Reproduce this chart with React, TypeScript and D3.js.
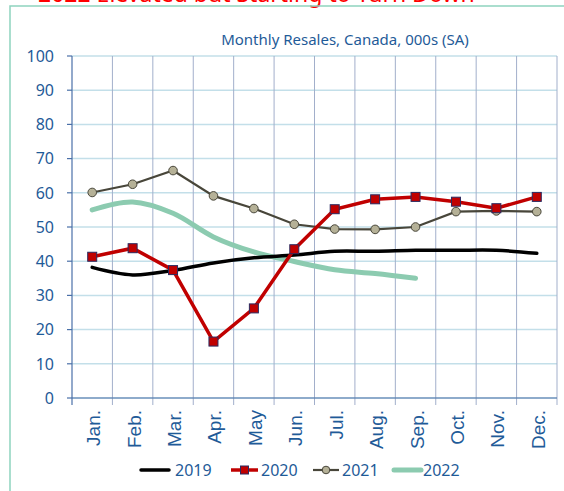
import React from "react";
import * as d3 from "d3";

const months = ["Jan.", "Feb.", "Mar.", "Apr.", "May", "Jun.", "Jul.", "Aug.", "Sep.", "Oct.", "Nov.", "Dec."];
const s2019 = [38.2, 36.0, 37.3, 39.5, 41.0, 41.8, 42.9, 42.9, 43.2, 43.2, 43.2, 42.3];
const s2020 = [41.3, 43.8, 37.4, 16.5, 26.2, 43.5, 55.2, 58.1, 58.8, 57.4, 55.5, 58.8];
const s2021 = [60.1, 62.5, 66.5, 59.1, 55.4, 50.8, 49.4, 49.3, 50.0, 54.5, 54.7, 54.5];
const s2022 = [55.0, 57.3, 54.0, 47.1, 42.7, 39.9, 37.5, 36.4, 35.0];
const yTicks = [0, 10, 20, 30, 40, 50, 60, 70, 80, 90, 100];
const seriesNames = ["2019", "2020", "2021", "2022"];

const W = 564, H = 491;
const L = 72, R = 557, T = 56, B = 398;
const BLUE = "#1F5B98";
const FONT = "'Noto Sans', sans-serif";

export default function App() {
  const x = d3.scaleBand<string>().domain(months).range([L, R]);
  const y = d3.scaleLinear().domain([0, 100]).range([B, T]);
  const cx = (i: number) => (x(months[i]) as number) + x.bandwidth() / 2;
  const straight = d3.line<number>().x((_, i) => cx(i)).y((d) => y(d));
  const smooth = d3.line<number>().x((_, i) => cx(i)).y((d) => y(d)).curve(d3.curveCatmullRom.alpha(0.5));

  const legendY = 470;
  return (
    <svg width={W} height={H} style={{ position: "absolute", left: 0, top: 0, background: "#fff" }} fontFamily={FONT}>
      <rect x={0} y={0} width={W} height={H} fill="#fff" />
      <text x={38} y={2} fill="#FF0000" fontSize={23} fontWeight={400}>2022 Elevated but Starting to Turn Down</text>
      <rect x={10} y={6} width={W + 20} height={H + 20} fill="none" stroke="#8ED3BE" strokeWidth={1.5} />
      <text x={345} y={45} fill={BLUE} fontSize={15} textAnchor="middle">Monthly Resales, Canada, 000s (SA)</text>

      {/* horizontal grid */}
      {yTicks.map((t) => (
        <line key={"h" + t} x1={L} x2={R} y1={y(t)} y2={y(t)} stroke="#C3DFE9" strokeWidth={1.5} />
      ))}
      {/* vertical grid */}
      {months.map((m) => (
        <line key={"v" + m} x1={(x(m) as number) + x.bandwidth()} x2={(x(m) as number) + x.bandwidth()} y1={T} y2={B + 7} stroke="#A2AFCB" strokeWidth={1} />
      ))}
      {/* axes */}
      <line x1={L} x2={L} y1={T} y2={B + 7} stroke="#4A70A8" strokeWidth={1.2} />
      <line x1={L} x2={R} y1={B} y2={B} stroke="#4A70A8" strokeWidth={1.2} />
      {yTicks.map((t) => (
        <g key={"yt" + t}>
          <line x1={L - 5} x2={L} y1={y(t)} y2={y(t)} stroke="#4A70A8" strokeWidth={1.2} />
          <text x={L - 18} y={y(t)} dy="0.36em" textAnchor="end" fill={BLUE} fontSize={16}>{t}</text>
        </g>
      ))}
      {months.map((m, i) => (
        <text key={"xl" + m} transform={`translate(${cx(i) + 8},${B + 12}) rotate(-90)`} textAnchor="end" fill={BLUE} fontSize={19} fontFamily="'Liberation Sans', Arial, sans-serif">{m}</text>
      ))}

      {/* series */}
      <path d={smooth(s2022) || ""} fill="none" stroke="#8CCBB0" strokeWidth={5} strokeLinecap="round" />
      <path d={smooth(s2019) || ""} fill="none" stroke="#000" strokeWidth={3.5} strokeLinecap="round" />
      <path d={straight(s2021) || ""} fill="none" stroke="#48463A" strokeWidth={2.2} />
      {s2021.map((v, i) => (
        <circle key={"c" + i} cx={cx(i)} cy={y(v)} r={4.3} fill="#B5B197" stroke="#48463A" strokeWidth={1} />
      ))}
      <path d={straight(s2020) || ""} fill="none" stroke="#C00000" strokeWidth={3.5} />
      {s2020.map((v, i) => (
        <rect key={"r" + i} x={cx(i) - 4.5} y={y(v) - 4.5} width={9} height={9} fill="#C00000" stroke="#2A2A60" strokeWidth={1} />
      ))}

      {/* legend */}
      <g>
        <line x1={141} x2={169} y1={legendY} y2={legendY} stroke="#000" strokeWidth={3.5} strokeLinecap="round" />
        <text x={175} y={legendY} dy="0.36em" fill={BLUE} fontSize={16}>{seriesNames[0]}</text>
        <line x1={231} x2={258} y1={legendY} y2={legendY} stroke="#C00000" strokeWidth={3.5} />
        <rect x={240.5} y={legendY - 4} width={8} height={8} fill="#C00000" stroke="#2A2A60" strokeWidth={1} />
        <text x={261} y={legendY} dy="0.36em" fill={BLUE} fontSize={16}>{seriesNames[1]}</text>
        <line x1={313} x2={339} y1={legendY} y2={legendY} stroke="#48463A" strokeWidth={2.2} />
        <circle cx={326} cy={legendY} r={3.8} fill="#B5B197" stroke="#48463A" strokeWidth={1} />
        <text x={342} y={legendY} dy="0.36em" fill={BLUE} fontSize={16}>{seriesNames[2]}</text>
        <line x1={394} x2={421} y1={legendY} y2={legendY} stroke="#8CCBB0" strokeWidth={5} strokeLinecap="round" />
        <text x={423} y={legendY} dy="0.36em" fill={BLUE} fontSize={16}>{seriesNames[3]}</text>
      </g>
    </svg>
  );
}
